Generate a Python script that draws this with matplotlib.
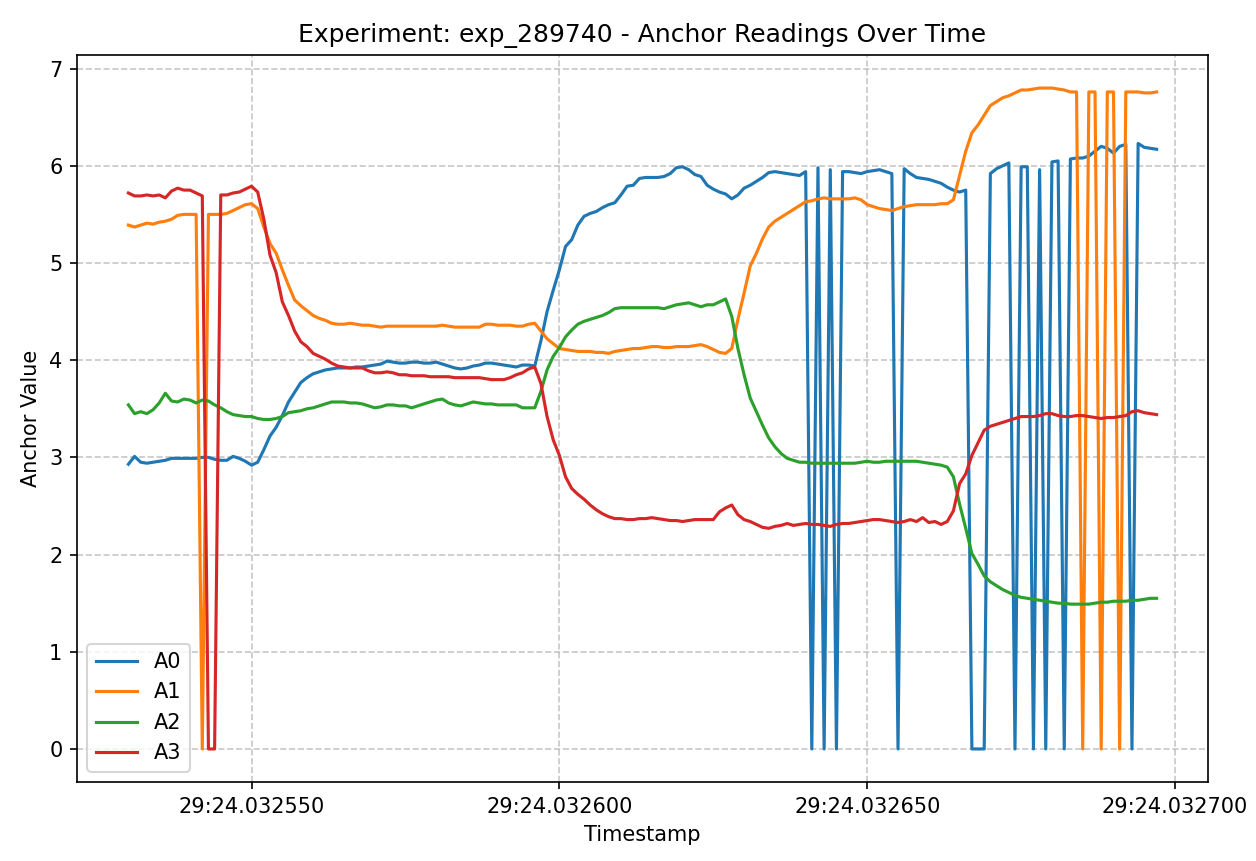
import numpy as np
import matplotlib
matplotlib.use("Agg")
import matplotlib.pyplot as plt
from matplotlib.ticker import MultipleLocator, FuncFormatter

# Timestamps: 29:24.032530 ... 29:24.032697, expressed in microseconds after 29:24.032000
t_start_us = 530
t_step_us = 1

a0 = [2.93, 3.01, 2.95, 2.94, 2.95, 2.96, 2.97, 2.99, 2.99, 2.99,
      2.99, 2.99, 3.00, 3.00, 2.98, 2.97, 2.97, 3.01, 2.99, 2.96,
      2.92, 2.95, 3.08, 3.22, 3.31, 3.43, 3.57, 3.67, 3.77, 3.82,
      3.86, 3.88, 3.90, 3.91, 3.92, 3.92, 3.92, 3.93, 3.93, 3.94,
      3.95, 3.96, 3.99, 3.98, 3.97, 3.97, 3.98, 3.98, 3.97, 3.97,
      3.98, 3.96, 3.94, 3.92, 3.91, 3.92, 3.94, 3.95, 3.97, 3.97,
      3.96, 3.95, 3.94, 3.93, 3.95, 3.95, 3.94, 4.20, 4.50, 4.72,
      4.93, 5.17, 5.24, 5.39, 5.48, 5.51, 5.53, 5.57, 5.60, 5.62,
      5.70, 5.79, 5.80, 5.87, 5.88, 5.88, 5.88, 5.89, 5.92, 5.98,
      5.99, 5.96, 5.91, 5.89, 5.80, 5.76, 5.73, 5.71, 5.66, 5.70,
      5.77, 5.80, 5.84, 5.88, 5.93, 5.94, 5.93, 5.92, 5.91, 5.90,
      5.94, 0.00, 5.98, 0.00, 5.96, 0.00, 5.94, 5.94, 5.93, 5.92,
      5.94, 5.95, 5.96, 5.94, 5.92, 0.00, 5.97, 5.92, 5.88, 5.87,
      5.86, 5.84, 5.82, 5.78, 5.75, 5.73, 5.75, 0.00, 0.00, 0.00,
      5.92, 5.97, 6.00, 6.03, 0.00, 5.99, 5.99, 0.00, 5.96, 0.00,
      6.04, 6.05, 0.00, 6.07, 6.08, 6.08, 6.10, 6.15, 6.20, 6.18,
      6.13, 6.20, 6.22, 0.00, 6.23, 6.19, 6.18, 6.17]

a1 = [5.39, 5.37, 5.39, 5.41, 5.40, 5.42, 5.43, 5.45, 5.49, 5.50,
      5.50, 5.50, 0.00, 5.50, 5.50, 5.50, 5.51, 5.54, 5.57, 5.60,
      5.61, 5.56, 5.37, 5.20, 5.10, 4.93, 4.77, 4.62, 4.56, 4.51,
      4.46, 4.43, 4.41, 4.38, 4.37, 4.37, 4.38, 4.37, 4.36, 4.36,
      4.35, 4.34, 4.35, 4.35, 4.35, 4.35, 4.35, 4.35, 4.35, 4.35,
      4.35, 4.36, 4.35, 4.34, 4.34, 4.34, 4.34, 4.34, 4.37, 4.37,
      4.36, 4.36, 4.36, 4.35, 4.35, 4.37, 4.38, 4.30, 4.22, 4.17,
      4.12, 4.11, 4.10, 4.09, 4.09, 4.09, 4.08, 4.08, 4.07, 4.09,
      4.10, 4.11, 4.12, 4.12, 4.13, 4.14, 4.14, 4.13, 4.13, 4.14,
      4.14, 4.14, 4.15, 4.16, 4.14, 4.11, 4.08, 4.07, 4.12, 4.42,
      4.69, 4.97, 5.10, 5.25, 5.37, 5.43, 5.47, 5.51, 5.55, 5.59,
      5.63, 5.64, 5.66, 5.67, 5.66, 5.66, 5.66, 5.66, 5.67, 5.65,
      5.60, 5.58, 5.56, 5.55, 5.54, 5.56, 5.58, 5.59, 5.60, 5.60,
      5.60, 5.60, 5.61, 5.61, 5.65, 5.90, 6.15, 6.34, 6.42, 6.52,
      6.62, 6.66, 6.70, 6.72, 6.75, 6.78, 6.78, 6.79, 6.80, 6.80,
      6.80, 6.79, 6.78, 6.76, 6.76, 0.00, 6.76, 6.76, 0.00, 6.76,
      6.76, 0.00, 6.76, 6.76, 6.76, 6.75, 6.75, 6.76]

a2 = [3.54, 3.45, 3.47, 3.45, 3.49, 3.56, 3.66, 3.58, 3.57, 3.60,
      3.59, 3.56, 3.59, 3.58, 3.54, 3.51, 3.47, 3.44, 3.43, 3.42,
      3.42, 3.40, 3.39, 3.39, 3.40, 3.42, 3.46, 3.47, 3.48, 3.50,
      3.51, 3.53, 3.55, 3.57, 3.57, 3.57, 3.56, 3.56, 3.55, 3.53,
      3.51, 3.52, 3.54, 3.54, 3.53, 3.53, 3.51, 3.53, 3.55, 3.57,
      3.59, 3.60, 3.56, 3.54, 3.53, 3.55, 3.57, 3.56, 3.55, 3.55,
      3.54, 3.54, 3.54, 3.54, 3.51, 3.51, 3.51, 3.68, 3.90, 4.04,
      4.13, 4.24, 4.31, 4.37, 4.40, 4.42, 4.44, 4.46, 4.49, 4.53,
      4.54, 4.54, 4.54, 4.54, 4.54, 4.54, 4.54, 4.53, 4.55, 4.57,
      4.58, 4.59, 4.57, 4.55, 4.57, 4.57, 4.60, 4.63, 4.45, 4.12,
      3.85, 3.61, 3.47, 3.33, 3.20, 3.11, 3.04, 2.99, 2.97, 2.95,
      2.95, 2.94, 2.94, 2.94, 2.94, 2.94, 2.94, 2.94, 2.94, 2.95,
      2.96, 2.95, 2.95, 2.96, 2.96, 2.96, 2.96, 2.96, 2.96, 2.95,
      2.94, 2.93, 2.92, 2.90, 2.80, 2.52, 2.27, 2.01, 1.90, 1.78,
      1.72, 1.68, 1.64, 1.61, 1.58, 1.56, 1.55, 1.54, 1.53, 1.52,
      1.51, 1.50, 1.50, 1.49, 1.49, 1.49, 1.49, 1.50, 1.51, 1.51,
      1.52, 1.52, 1.52, 1.53, 1.53, 1.54, 1.55, 1.55]

a3 = [5.72, 5.69, 5.69, 5.70, 5.69, 5.70, 5.67, 5.74, 5.77, 5.75,
      5.75, 5.72, 5.69, 0.00, 0.00, 5.70, 5.70, 5.72, 5.73, 5.76,
      5.79, 5.73, 5.45, 5.08, 4.90, 4.60, 4.46, 4.30, 4.19, 4.14,
      4.07, 4.04, 4.01, 3.97, 3.94, 3.93, 3.92, 3.92, 3.92, 3.89,
      3.87, 3.87, 3.88, 3.87, 3.85, 3.85, 3.84, 3.84, 3.84, 3.83,
      3.83, 3.83, 3.83, 3.82, 3.82, 3.82, 3.82, 3.82, 3.81, 3.80,
      3.80, 3.80, 3.82, 3.85, 3.87, 3.91, 3.93, 3.76, 3.42, 3.18,
      3.02, 2.80, 2.68, 2.62, 2.57, 2.51, 2.46, 2.42, 2.39, 2.37,
      2.37, 2.36, 2.36, 2.37, 2.37, 2.38, 2.37, 2.36, 2.35, 2.35,
      2.34, 2.35, 2.36, 2.36, 2.36, 2.36, 2.44, 2.48, 2.51, 2.41,
      2.36, 2.34, 2.31, 2.28, 2.27, 2.29, 2.30, 2.32, 2.30, 2.31,
      2.32, 2.31, 2.31, 2.30, 2.29, 2.31, 2.32, 2.32, 2.33, 2.34,
      2.35, 2.36, 2.36, 2.35, 2.34, 2.33, 2.34, 2.36, 2.34, 2.38,
      2.33, 2.34, 2.31, 2.34, 2.45, 2.73, 2.83, 3.02, 3.15, 3.28,
      3.32, 3.34, 3.36, 3.38, 3.40, 3.42, 3.42, 3.42, 3.43, 3.45,
      3.45, 3.43, 3.42, 3.42, 3.43, 3.43, 3.42, 3.41, 3.40, 3.41,
      3.41, 3.42, 3.43, 3.47, 3.48, 3.46, 3.45, 3.44]

series = {"A0": a0, "A1": a1, "A2": a2, "A3": a3}
tick_prefix = "29:24."
tick_base_us = 32000

t = t_start_us + t_step_us * np.arange(len(a0))

fig = plt.figure(figsize=(1256 / 150, 861 / 150), dpi=150)
ax = fig.add_axes([77 / 1256, 1 - 782 / 861, (1208 - 77) / 1256, (782 - 55) / 861])

for name, vals in series.items():
    ax.plot(t, vals, label=name, linewidth=1.5)

ax.xaxis.set_major_locator(MultipleLocator(50))
ax.xaxis.set_major_formatter(FuncFormatter(lambda v, p: f"{tick_prefix}{int(round(tick_base_us + v)):06d}"))
ax.grid(True, linestyle="--", alpha=0.7)
ax.set_title("Experiment: exp_289740 - Anchor Readings Over Time", fontsize=12)
ax.set_xlabel("Timestamp")
ax.set_ylabel("Anchor Value")
ax.legend(loc="lower left")

fig.savefig("out.png", dpi=150)
